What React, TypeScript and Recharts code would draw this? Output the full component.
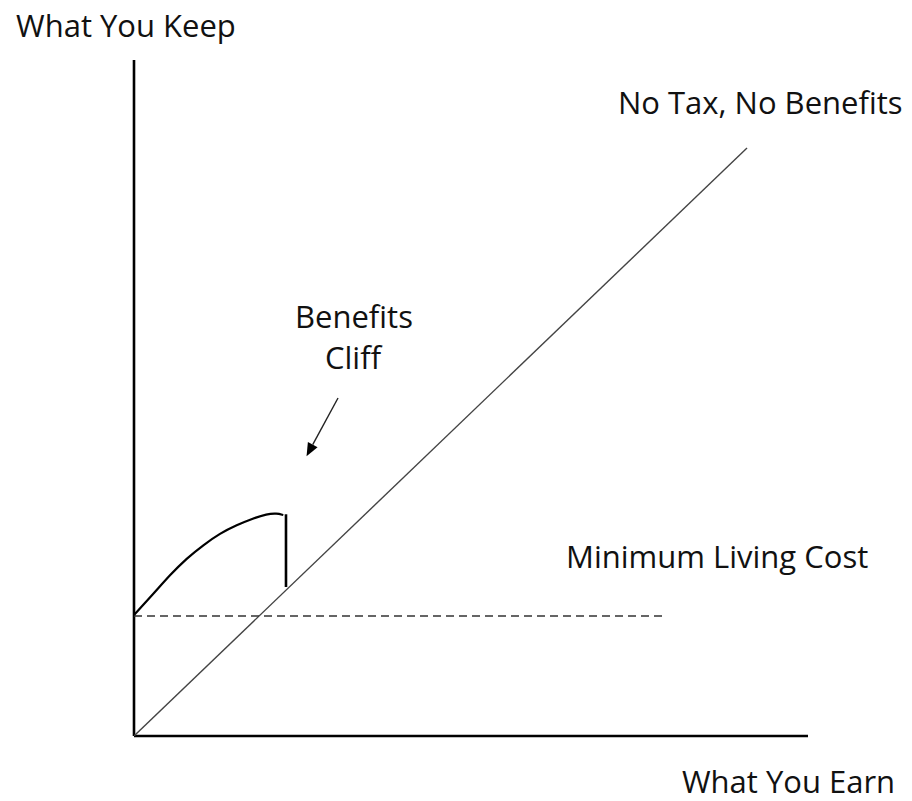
import React from "react";
import { LineChart, Line, XAxis, YAxis, ReferenceDot, ReferenceLine } from "recharts";

// Data in abstract units (0-100 on each axis)
const diagonalLine = [
  { x: 0, y: 0 },
  { x: 90.95, y: 86.98 },
];
const benefitsCurve = [
  { x: 0, y: 17.9 },
  { x: 2.86, y: 21.0 },
  { x: 5.34, y: 23.82 },
  { x: 7.82, y: 26.29 },
  { x: 10.29, y: 28.25 },
  { x: 12.76, y: 29.98 },
  { x: 15.24, y: 31.21 },
  { x: 17.7, y: 32.2 },
  { x: 19.69, y: 32.84 },
  { x: 21.17, y: 32.94 },
  { x: 22.15, y: 32.69 },
];
const cliffDrop = [
  { x: 22.55, y: 32.8 },
  { x: 22.55, y: 22.04 },
];
const minimumLivingCost = [
  { x: 0, y: 17.75 },
  { x: 79.08, y: 17.75 },
];
const arrowFrom = { x: 30.27, y: 50.0 };
const arrowTo = { x: 25.6, y: 41.4 };

const labels = [
  { text: "What You Keep", x: -17.5, y: 103.4, anchor: "start" },
  { text: "No Tax, No Benefits", x: 71.8, y: 92.0, anchor: "start" },
  { text: "Benefits", x: 32.64, y: 60.36, anchor: "middle" },
  { text: "Cliff", x: 32.5, y: 54.29, anchor: "middle" },
  { text: "Minimum Living Cost", x: 64.1, y: 24.85, anchor: "start" },
  { text: "What You Earn", x: 81.3, y: -8.5, anchor: "start" },
];

const FONT = "'Open Sans', 'DejaVu Sans', sans-serif";

const ArrowShape = (props: any) => {
  const { x1, y1, x2, y2 } = props;
  if ([x1, y1, x2, y2].some((v) => typeof v !== "number" || isNaN(v))) return <g />;
  const dx = x2 - x1;
  const dy = y2 - y1;
  const len = Math.sqrt(dx * dx + dy * dy);
  const ux = dx / len;
  const uy = dy / len;
  const headLen = 13;
  const headW = 5.5;
  const bx = x2 - ux * headLen;
  const by = y2 - uy * headLen;
  const px = -uy;
  const py = ux;
  return (
    <g>
      <line x1={x1} y1={y1} x2={bx} y2={by} stroke="#222" strokeWidth={1.4} />
      <polygon
        points={`${x2},${y2} ${bx + px * headW},${by + py * headW} ${bx - px * headW},${by - py * headW}`}
        fill="#000"
      />
    </g>
  );
};

export default function App() {
  return (
    <div style={{ position: "absolute", left: 0, top: 0, width: 912, height: 801, background: "#fff" }}>
      <LineChart
        width={912}
        height={801}
        margin={{ top: 60, right: 104, bottom: 65, left: 134 }}
      >
        <XAxis type="number" dataKey="x" domain={[0, 100]} hide allowDataOverflow />
        <YAxis type="number" dataKey="y" domain={[0, 100]} hide allowDataOverflow />
        <ReferenceLine x={0} stroke="#000" strokeWidth={2.6} ifOverflow="visible" />
        <ReferenceLine y={0} stroke="#000" strokeWidth={2.6} ifOverflow="visible" />
        <Line
          data={diagonalLine}
          dataKey="y"
          type="linear"
          stroke="#444"
          strokeWidth={1.4}
          dot={false}
          activeDot={false}
          isAnimationActive={false}
        />
        <Line
          data={minimumLivingCost}
          dataKey="y"
          type="linear"
          stroke="#333"
          strokeWidth={1.4}
          strokeDasharray="8 5"
          dot={false}
          activeDot={false}
          isAnimationActive={false}
        />
        <Line
          data={benefitsCurve}
          dataKey="y"
          type="basis"
          stroke="#000"
          strokeWidth={2.2}
          dot={false}
          activeDot={false}
          isAnimationActive={false}
        />
        <Line
          data={cliffDrop}
          dataKey="y"
          type="linear"
          stroke="#000"
          strokeWidth={2.6}
          dot={false}
          activeDot={false}
          isAnimationActive={false}
        />
        <ReferenceLine
          segment={[arrowFrom, arrowTo]}
          ifOverflow="visible"
          shape={ArrowShape}
        />
        {labels.map((l) => (
          <ReferenceDot
            key={l.text}
            x={l.x}
            y={l.y}
            r={0}
            ifOverflow="visible"
            shape={(p: any) => (
              <text
                x={p.cx}
                y={p.cy}
                textAnchor={l.anchor as any}
                fontFamily={FONT}
                fontSize={31}
                fill="#111"
              >
                {l.text}
              </text>
            )}
          />
        ))}
      </LineChart>
    </div>
  );
}
